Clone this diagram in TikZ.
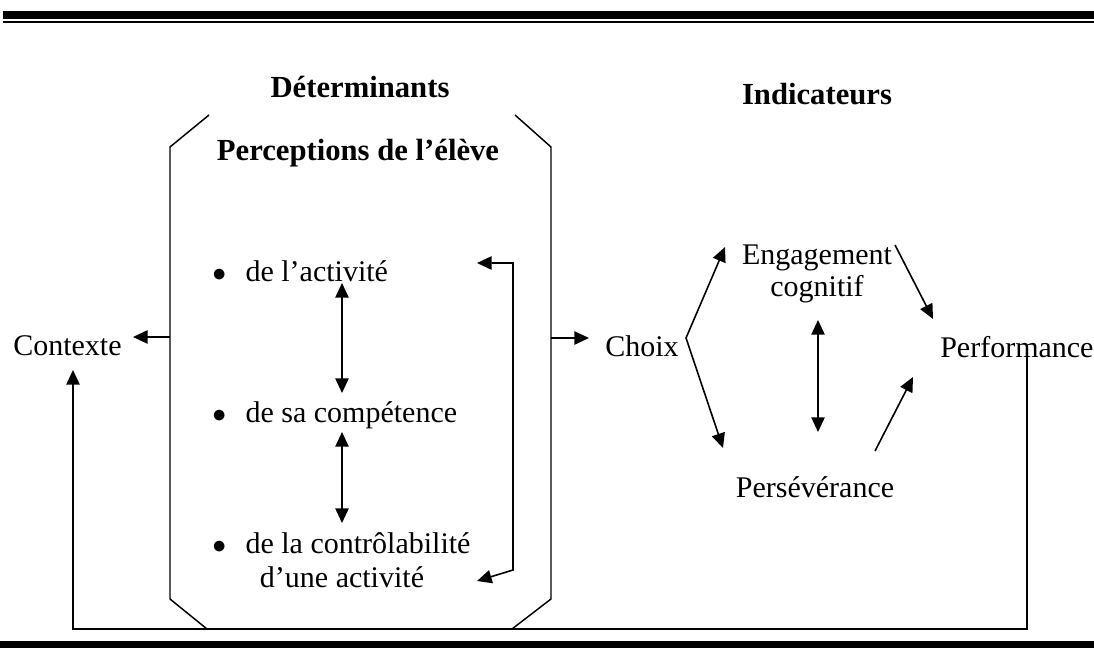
\documentclass[tikz,border=0pt]{standalone}
\usepackage{fontspec}
\setmainfont{Liberation Serif}
\usetikzlibrary{arrows.meta}
\begin{document}
\begin{tikzpicture}[x=0.75pt,y=-0.75pt,
  lbl/.style={font=\fontsize{22.5}{27}\selectfont, inner sep=0pt, anchor=base},
  ttl/.style={font=\fontsize{23}{27}\selectfont\bfseries, inner sep=0pt, anchor=base},
  item/.style={lbl, anchor=base west},
  frame/.style={line width=1.1pt},
  wire/.style={line width=1.2pt},
  arr/.style={wire, -{Triangle[length=11pt,width=10pt]}},
  darr/.style={wire, {Triangle[length=11pt,width=10pt]}-{Triangle[length=11pt,width=10pt]}},
]
\useasboundingbox (0,0) rectangle (1094,652);

% page rules
\fill (3,11) rectangle (1094,19);
\draw[line width=0.9pt] (3,22) -- (1094,22);
\fill (0,641) rectangle (1094,648);

% headings
\node[ttl] (det) at (360,98) {Déterminants};
\node[ttl] (ind) at (817,105) {Indicateurs};
\node[ttl] (perc) at (358,161) {Perceptions de l’élève};

% determinants frame
\draw[frame] (209,115) -- (170,147) -- (170,599) -- (207,629);
\draw[frame] (515,115) -- (551,147) -- (551,599) -- (512,629);

% perceptions
\newcommand{\bul}{$\bullet$\hspace{0.65em}}
\node[item] (p1) at (212,281) {\bul de l’activité};
\node[item] (p2) at (212,422) {\bul de sa compétence};
\node[item] (p3) at (212,553) {\bul de la contrôlabilité};
\node[lbl] (p3b) at (342,587) {d’une activité};

% other labels
\node[item] (ctx) at (13,355) {Contexte};
\node[item] (choix) at (605,356) {Choix};
\node[lbl] (eng) at (817,264) {Engagement};
\node[lbl] (cog) at (817,296) {cognitif};
\node[item] (perf) at (940,357) {Performance};
\node[lbl] (pers) at (815,497) {Persévérance};

% connector end points
\coordinate (ctxA) at (170,337);  \coordinate (ctxB) at (133,337);
\coordinate (choA) at (551,338);  \coordinate (choB) at (589,338);
\coordinate (d1a) at (342,283);   \coordinate (d1b) at (342,393);
\coordinate (d2a) at (342,432);   \coordinate (d2b) at (342,523);
\coordinate (lpA) at (477,263);   \coordinate (lpB) at (513,263);
\coordinate (lpC) at (513,570);   \coordinate (lpD) at (477,581);
\coordinate (chT) at (725,247);   \coordinate (chV) at (686,338);
\coordinate (chB) at (723,448);
\coordinate (epA) at (818,320);   \coordinate (epB) at (818,432);
\coordinate (ePa) at (895,245);   \coordinate (ePb) at (933,319);
\coordinate (pPa) at (875,451);   \coordinate (pPb) at (913,377);
\coordinate (fbA) at (1027,353);  \coordinate (fbB) at (1027,629);
\coordinate (fbC) at (73,629);    \coordinate (fbD) at (73,370);

% connectors
\draw[arr] (ctxA) -- (ctxB);
\draw[arr] (choA) -- (choB);
\draw[darr] (d1a) -- (d1b);
\draw[darr] (d2a) -- (d2b);
\draw[darr] (lpA) -- (lpB) -- (lpC) -- (lpD);
\draw[darr] (chT) -- (chV) -- (chB);
\draw[darr] (epA) -- (epB);
\draw[arr] (ePa) -- (ePb);
\draw[arr] (pPa) -- (pPb);
\draw[arr] (fbA) -- (fbB) -- (fbC) -- (fbD);
\end{tikzpicture}
\end{document}
